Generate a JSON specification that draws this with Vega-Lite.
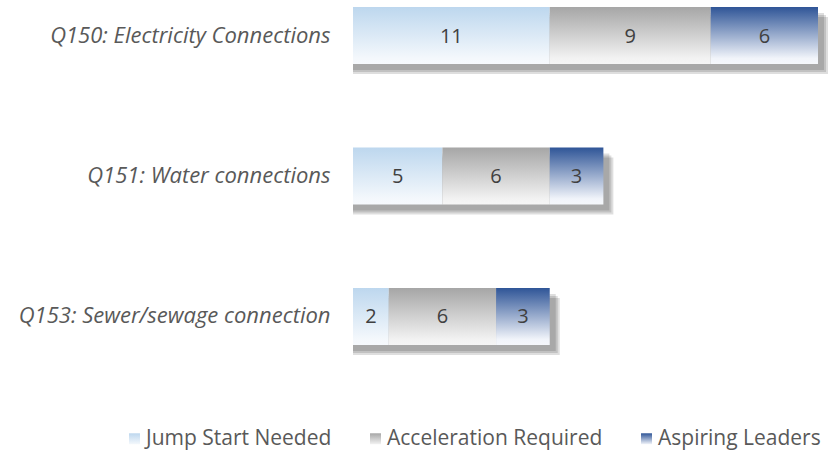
{
  "$schema": "https://vega.github.io/schema/vega-lite/v6.json",
  "width": 465,
  "height": 338,
  "autosize": {"type": "none"},
  "padding": {"left": 353, "top": 7, "right": 12, "bottom": 107},
  "background": "white",
  "config": {
    "view": {"stroke": null},
    "font": "Open Sans",
    "axis": {"grid": false}
  },
  "data": {
    "values": [
      {"q": "Q150: Electricity Connections", "s": "Jump Start Needed", "v": 11, "o": 1},
      {"q": "Q150: Electricity Connections", "s": "Acceleration Required", "v": 9, "o": 2},
      {"q": "Q150: Electricity Connections", "s": "Aspiring Leaders", "v": 6, "o": 3},
      {"q": "Q151: Water connections", "s": "Jump Start Needed", "v": 5, "o": 1},
      {"q": "Q151: Water connections", "s": "Acceleration Required", "v": 6, "o": 2},
      {"q": "Q151: Water connections", "s": "Aspiring Leaders", "v": 3, "o": 3},
      {"q": "Q153: Sewer/sewage connection", "s": "Jump Start Needed", "v": 2, "o": 1},
      {"q": "Q153: Sewer/sewage connection", "s": "Acceleration Required", "v": 6, "o": 2},
      {"q": "Q153: Sewer/sewage connection", "s": "Aspiring Leaders", "v": 3, "o": 3}
    ]
  },
  "transform": [
    {"stack": "v", "groupby": ["q"], "sort": [{"field": "o"}], "as": ["v0", "v1"]}
  ],
  "encoding": {
    "y": {
      "field": "q",
      "type": "nominal",
      "sort": null,
      "scale": {"paddingInner": 0.594, "paddingOuter": 0},
      "axis": {
        "title": null,
        "domain": false,
        "ticks": false,
        "labelFontStyle": "italic",
        "labelFontSize": 22,
        "labelColor": "#595959",
        "labelPadding": 23,
        "labelLimit": 400
      }
    }
  },
  "layer": [
    {
      "mark": {"type": "bar", "color": "#000000", "opacity": 0.13, "xOffset": 6, "yOffset": 6},
      "encoding": {
        "x": {"aggregate": "sum", "field": "v", "type": "quantitative", "scale": {"domain": [0, 26]}, "axis": null}
      }
    },
    {
      "mark": {"type": "bar", "color": "#000000", "opacity": 0.13, "xOffset": 8, "yOffset": 8},
      "encoding": {
        "x": {"aggregate": "sum", "field": "v", "type": "quantitative"}
      }
    },
    {
      "mark": {"type": "bar", "color": "#000000", "opacity": 0.13, "xOffset": 10, "yOffset": 10},
      "encoding": {
        "x": {"aggregate": "sum", "field": "v", "type": "quantitative"}
      }
    },
    {
      "mark": {"type": "point", "filled": true, "opacity": 0, "color": "#888888"},
      "encoding": {
        "x": {"field": "v1", "type": "quantitative"},
        "shape": {
          "field": "s",
          "type": "nominal",
          "scale": {
            "domain": ["Jump Start Needed", "Acceleration Required", "Aspiring Leaders"],
            "range": ["square", "square", "square"]
          },
          "legend": {
            "title": null,
            "orient": "none",
            "direction": "horizontal",
            "legendX": -229,
            "legendY": 421,
            "symbolSize": 120,
            "symbolStrokeWidth": 0,
            "symbolOpacity": 1,
            "labelFontSize": 21,
            "labelColor": "#595959",
            "labelOffset": 1,
            "columnPadding": 33,
            "labelLimit": 300,
            "encoding": {
              "symbols": {
                "opacity": {"value": 1},
                "fillOpacity": {"value": 1},
                "fill": {
                  "condition": [
                    {"test": "datum.value === 'Jump Start Needed'", "value": {"gradient": "linear", "x1": 0, "y1": 0, "x2": 0, "y2": 1, "stops": [{"offset": 0, "color": "#bdd7ee"}, {"offset": 1, "color": "#f4f8fc"}]}},
                    {"test": "datum.value === 'Acceleration Required'", "value": {"gradient": "linear", "x1": 0, "y1": 0, "x2": 0, "y2": 1, "stops": [{"offset": 0, "color": "#a6a6a6"}, {"offset": 1, "color": "#f2f2f2"}]}}
                  ],
                  "value": {"gradient": "linear", "x1": 0, "y1": 0, "x2": 0, "y2": 1, "stops": [{"offset": 0, "color": "#2f5597"}, {"offset": 1, "color": "#f1f4fa"}]}
                }
              }
            }
          }
        }
      }
    },
    {
      "transform": [{"filter": "datum.s === 'Jump Start Needed'"}],
      "mark": {"type": "bar", "color": {"gradient": "linear", "x1": 0, "y1": 0, "x2": 0, "y2": 1, "stops": [{"offset": 0, "color": "#bdd7ee"}, {"offset": 0.9, "color": "#f4f8fc"}, {"offset": 1, "color": "#f6f9fd"}]}},
      "encoding": {
        "x": {"field": "v0", "type": "quantitative"},
        "x2": {"field": "v1"}
      }
    },
    {
      "transform": [{"filter": "datum.s === 'Acceleration Required'"}],
      "mark": {"type": "bar", "color": {"gradient": "linear", "x1": 0, "y1": 0, "x2": 0, "y2": 1, "stops": [{"offset": 0, "color": "#a6a6a6"}, {"offset": 0.9, "color": "#f2f2f2"}, {"offset": 1, "color": "#f5f5f5"}]}},
      "encoding": {
        "x": {"field": "v0", "type": "quantitative"},
        "x2": {"field": "v1"}
      }
    },
    {
      "transform": [{"filter": "datum.s === 'Aspiring Leaders'"}],
      "mark": {"type": "bar", "color": {"gradient": "linear", "x1": 0, "y1": 0, "x2": 0, "y2": 1, "stops": [{"offset": 0, "color": "#2f5597"}, {"offset": 0.9, "color": "#f1f4fa"}, {"offset": 1, "color": "#f5f7fb"}]}},
      "encoding": {
        "x": {"field": "v0", "type": "quantitative"},
        "x2": {"field": "v1"}
      }
    },
    {
      "transform": [
        {"fold": ["v0", "v1"], "as": ["k", "pos"]}
      ],
      "mark": {"type": "text", "fontSize": 20, "color": "#404040", "align": "center", "baseline": "middle", "dy": 1},
      "encoding": {
        "x": {"aggregate": "mean", "field": "pos", "type": "quantitative"},
        "detail": {"field": "s", "type": "nominal"},
        "text": {"field": "v", "type": "quantitative"}
      }
    }
  ]
}
